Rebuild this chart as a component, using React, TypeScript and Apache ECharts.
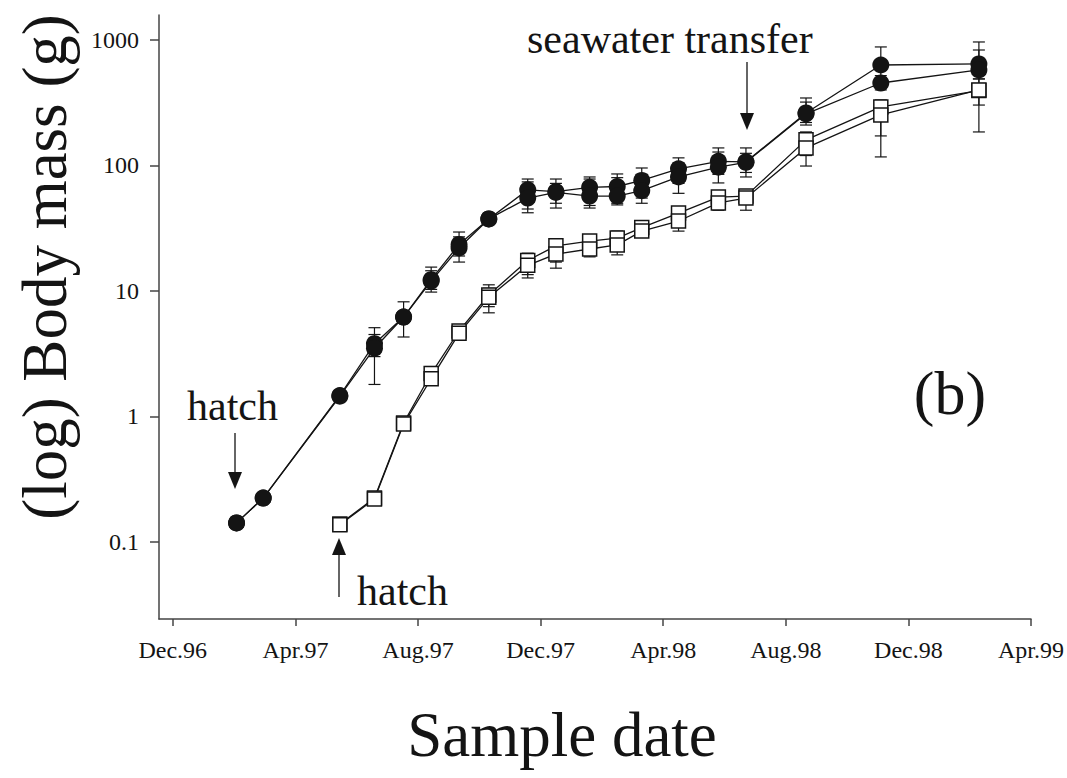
import React, { useEffect, useRef } from "react";
import * as echarts from "echarts";

// x = months since Dec.96
const sampleMonths = [2.08, 2.95, 5.45, 6.58, 7.53, 8.43, 9.34, 10.31, 11.58, 12.5, 13.6, 14.5, 15.3, 16.5, 17.8, 18.7, 20.66, 23.1, 26.3];
const monthsB = sampleMonths.slice(2);

const xTickValues = [0, 4, 8, 12, 16, 20, 24, 28];
const xTickLabels = ["Dec.96", "Apr.97", "Aug.97", "Dec.97", "Apr.98", "Aug.98", "Dec.98", "Apr.99"];
const yTickValues = [0.1, 1, 10, 100, 1000];
const yTickLabels = ["0.1", "1", "10", "100", "1000"];

// filled circles
const massA1 = [0.142, 0.224, 1.47, 3.8, 6.2, 12.3, 23.5, 37.5, 64, 62, 67, 68, 76, 94, 108, 107, 262, 632, 644];
const massA2 = [0.142, 0.224, 1.45, 3.5, 6.2, 12.0, 22.0, 37.5, 55, 61, 57, 57, 63, 81, 97, 106, 258, 454, 577];
const lowA1 = [0.13, null, null, 1.8, 4.3, 9.8, 17, null, 45, 45.8, 45.8, 48.5, 55, 72, 85, 81, 210, 500, 540];
const highA1 = [0.155, null, null, 5.1, 8.2, 15.5, 29.5, null, 78, 78, 81, 85.6, 95.5, 115, 138, 138, 345, 880, 964];
const lowA2 = [null, null, null, 3.0, null, 10.3, 19, null, 42, 50, 48, 50, 50, 60, 72.6, 88, 220, 400, 489];
const highA2 = [null, null, null, 4.5, null, 14.5, 27, null, 74, 72, 78, 80, 85, 105, 128, 125, 320, 520, 832];

// open squares
const massB1 = [0.139, 0.224, 0.887, 2.2, 4.8, 9.3, 17.5, 22.9, 25, 26.4, 32, 41.8, 56, 57, 160, 293, 395];
const massB2 = [0.137, 0.22, 0.87, 2.0, 4.6, 8.9, 16, 19.7, 21.6, 23.3, 30, 36.1, 50.3, 55, 138, 253, 400];
const lowB1 = [0.128, null, 0.83, 1.9, 4.3, 6.7, 12.7, 15.2, 18.7, 19.4, 28, 30, 44, 44, 99, 172, 303];
const highB1 = [0.15, null, 0.95, 2.5, 5.3, 11.2, 20, 26, 28, 30, 34, 46, 60, 62, 185, 333, 490];
const lowB2 = [null, null, null, 1.8, 4.2, 7.5, 13.5, 17, 19.5, 21, 27, 33, 46, 50, 120, 117, 185];
const highB2 = [null, null, null, 2.3, 5.1, 10.5, 19, 23, 24, 26, 33, 40, 55, 60, 175, 290, 600];

const L = Math.log10;
const FONT = "'Liberation Serif', 'Times New Roman', serif";
const INK = "#141414";

function pts(xs: number[], ys: number[]) {
  return xs.map((x, i) => [x, L(ys[i])]);
}
function errs(xs: number[], lo: (number | null)[], hi: (number | null)[]) {
  const out: number[][] = [];
  xs.forEach((x, i) => {
    const a = lo[i];
    const b = hi[i];
    if (a != null && b != null) out.push([x, L(a), L(b)]);
  });
  return out;
}

const errorRender = (params: any, api: any) => {
  const x = api.value(0);
  const p1 = api.coord([x, api.value(1)]);
  const p2 = api.coord([x, api.value(2)]);
  const w = 6;
  const st = { stroke: INK, lineWidth: 1.2 };
  return {
    type: "group",
    children: [
      { type: "line", shape: { x1: p1[0], y1: p1[1], x2: p2[0], y2: p2[1] }, style: st },
      { type: "line", shape: { x1: p1[0] - w, y1: p1[1], x2: p1[0] + w, y2: p1[1] }, style: st },
      { type: "line", shape: { x1: p2[0] - w, y1: p2[1], x2: p2[0] + w, y2: p2[1] }, style: st },
    ],
  };
};

function errSeries(data: number[][]) {
  return {
    type: "custom",
    renderItem: errorRender,
    data,
    z: 1,
    silent: true,
    encode: { x: 0, y: [1, 2] },
  };
}

function lineSeries(data: number[][], filled: boolean) {
  return {
    type: "line",
    data,
    z: 3,
    symbol: filled ? "circle" : "rect",
    symbolSize: filled ? 17 : 14,
    lineStyle: { color: INK, width: 1.3 },
    itemStyle: filled
      ? { color: INK, borderColor: INK, borderWidth: 0 }
      : { color: "#ffffff", borderColor: INK, borderWidth: 1.5 },
  };
}

function arrow(x: number, yTail: number, yHeadBase: number, yTip: number) {
  return [
    { type: "line", shape: { x1: x, y1: yTail, x2: x, y2: yHeadBase }, style: { stroke: INK, lineWidth: 1.3 } },
    {
      type: "polygon",
      shape: { points: [[x - 7, yHeadBase], [x + 7, yHeadBase], [x, yTip]] },
      style: { fill: INK },
    },
  ];
}

export default function App() {
  const ref = useRef<HTMLDivElement>(null);
  useEffect(() => {
    if (!ref.current) return;
    const chart = echarts.init(ref.current, null, { renderer: "svg" });
    const xIdx = (v: number) => xTickValues.indexOf(Math.round(v));
    chart.setOption({
      animation: false,
      backgroundColor: "#ffffff",
      grid: { left: 159, right: 31, top: 15, bottom: 159, containLabel: false },
      xAxis: {
        type: "value",
        min: -0.45,
        max: 28,
        splitLine: { show: false },
        axisLine: { onZero: false, lineStyle: { color: "#444", width: 1.5 } },
        axisTick: { customValues: xTickValues, length: 7, lineStyle: { color: "#444", width: 1.5 } },
        axisLabel: {
          customValues: xTickValues,
          formatter: (v: number) => xTickLabels[xIdx(v)] ?? "",
          fontFamily: FONT,
          fontSize: 24,
          color: INK,
          margin: 19,
        },
      },
      yAxis: {
        type: "value",
        min: -1.6135,
        max: 3.199,
        splitLine: { show: false },
        axisLine: { onZero: false, lineStyle: { color: "#444", width: 1.5 } },
        axisTick: { customValues: yTickValues.map(L), length: 9, lineStyle: { color: "#444", width: 1.5 } },
        axisLabel: {
          customValues: yTickValues.map(L),
          formatter: (v: number) => {
            const i = yTickValues.findIndex((t) => Math.abs(L(t) - v) < 1e-6);
            return i >= 0 ? yTickLabels[i] : "";
          },
          fontFamily: FONT,
          fontSize: 24,
          color: INK,
          margin: 20,
        },
      },
      series: [
        errSeries(errs(sampleMonths, lowA1, highA1)),
        errSeries(errs(sampleMonths, lowA2, highA2)),
        errSeries(errs(monthsB, lowB1, highB1)),
        errSeries(errs(monthsB, lowB2, highB2)),
        lineSeries(pts(monthsB, massB1), false),
        lineSeries(pts(monthsB, massB2), false),
        lineSeries(pts(sampleMonths, massA1), true),
        lineSeries(pts(sampleMonths, massA2), true),
      ],
      graphic: [
        {
          type: "text",
          x: 45,
          y: 267,
          rotation: Math.PI / 2,
          style: { text: "(log) Body mass (g)", font: `63px ${FONT}`, fill: INK, align: "center", verticalAlign: "middle" },
        },
        {
          type: "text",
          x: 562,
          y: 735,
          style: { text: "Sample date", font: `63px ${FONT}`, fill: INK, align: "center", verticalAlign: "middle" },
        },
        {
          type: "text",
          x: 950,
          y: 393,
          style: { text: "(b)", font: `62px ${FONT}`, fill: INK, align: "center", verticalAlign: "middle" },
        },
        {
          type: "text",
          x: 527,
          y: 39,
          style: { text: "seawater transfer", font: `42px ${FONT}`, fill: INK, align: "left", verticalAlign: "middle" },
        },
        {
          type: "text",
          x: 187,
          y: 406,
          style: { text: "hatch", font: `42px ${FONT}`, fill: INK, align: "left", verticalAlign: "middle" },
        },
        {
          type: "text",
          x: 357,
          y: 591,
          style: { text: "hatch", font: `42px ${FONT}`, fill: INK, align: "left", verticalAlign: "middle" },
        },
        ...arrow(747, 62, 113, 130),
        ...arrow(235, 433, 472, 489),
        ...arrow(339, 597, 555, 538),
      ],
    });
    return () => chart.dispose();
  }, []);
  return (
    <div
      ref={ref}
      style={{ position: "absolute", left: 0, top: 0, width: 1067, height: 778, background: "#fff" }}
    />
  );
}
